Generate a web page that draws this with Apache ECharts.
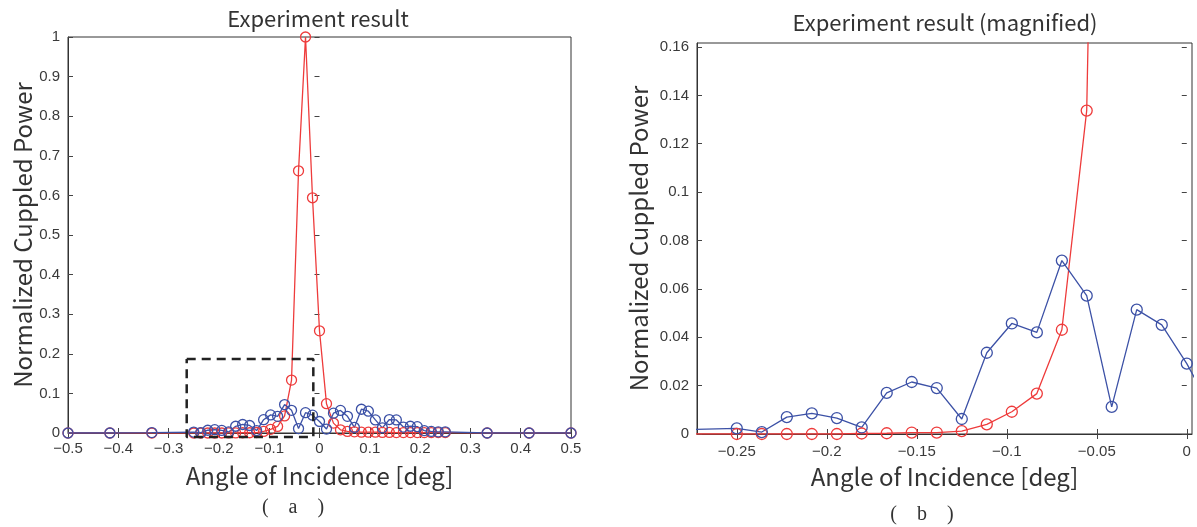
<!DOCTYPE html>
<html>
  <head>
    <meta charset="utf-8" />
    <title>Experiment result</title>
    <script src="https://cdn.jsdelivr.net/npm/echarts@6/dist/echarts.min.js"></script>
    <style>
      body { margin: 0; background: #fff; }
      #main { width: 1197px; height: 527px; }
    </style>
  </head>
  <body>
    <div id="main"></div>
    <script type="text/javascript">
      // angle of incidence [deg]
      var angles = [-0.5, -0.4167, -0.3333,
        -0.25, -0.2361, -0.2222, -0.2083, -0.1944, -0.1806, -0.1667, -0.1528, -0.1389,
        -0.125, -0.1111, -0.0972, -0.0833, -0.0694, -0.0556, -0.0417, -0.0278, -0.0139,
        0,
        0.0139, 0.0278, 0.0417, 0.0556, 0.0694, 0.0833, 0.0972, 0.1111, 0.125,
        0.1389, 0.1528, 0.1667, 0.1806, 0.1944, 0.2083, 0.2222, 0.2361, 0.25,
        0.3333, 0.4167, 0.5];
      // red curve
      var redPower = [0, 0, 0,
        0, 0, 0, 0, 0, 0.0002, 0.0003, 0.0006, 0.0006,
        0.0012, 0.004, 0.0092, 0.0167, 0.0431, 0.1337, 0.662, 1.0, 0.594,
        0.258,
        0.074, 0.025, 0.008, 0.004, 0.003, 0.002, 0.002, 0.002, 0.0015,
        0.0015, 0.001, 0.001, 0.001, 0.001, 0.001, 0.001, 0.001, 0.001,
        0, 0, 0];
      // blue curve
      var bluePower = [0, 0, 0.001,
        0.0023, 0.0008, 0.007, 0.0085, 0.0066, 0.0027, 0.017, 0.0215, 0.019,
        0.0062, 0.0336, 0.0457, 0.042, 0.0717, 0.0572, 0.0112, 0.0514, 0.0451,
        0.0291,
        0.010, 0.050, 0.057, 0.042, 0.014, 0.060, 0.055, 0.033, 0.013,
        0.034, 0.033, 0.015, 0.017, 0.016, 0.006, 0.004, 0.003, 0.003,
        0, 0, 0];
      // dashed box marking the magnified region
      var boxX = [-0.264, -0.0123, -0.0123, -0.264, -0.264];
      var boxY = [0.187, 0.187, -0.01, -0.01, 0.187];
      // tick labels of the magnified plot
      var magXTicks = [-0.25, -0.2, -0.15, -0.1, -0.05, 0];
      var magYTicks = [0, 0.02, 0.04, 0.06, 0.08, 0.1, 0.12, 0.14, 0.16];

      var RED = "#ee3b3b";
      var BLUE = "#3c51a6";
      var TXT = "#333";
      var NUMFONT = "Liberation Sans";
      var JPFONT = "Noto Sans CJK JP";

      function pairs(xs, ys) {
        var out = [];
        for (var i = 0; i < xs.length; i++) out.push([xs[i], ys[i]]);
        return out;
      }
      function fmt(v) {
        var s = String(+(+v).toFixed(3));
        return s.replace("-", "\u2212");
      }

      var chart = echarts.init(document.getElementById("main"));

      var tickStyle = { show: true, inside: true, length: 5, lineStyle: { color: "#444" } };
      var lineAx = { show: true, onZero: false, lineStyle: { color: "#333", width: 1 } };
      var lblStyle = { color: "#3a3a3a", fontFamily: NUMFONT, fontSize: 15 };
      var nameStyle = { color: TXT, fontFamily: JPFONT, fontSize: 24 };

      function curve(name, data, color, xi, yi, size) {
        return {
          name: name,
          type: "line",
          xAxisIndex: xi,
          yAxisIndex: yi,
          data: data,
          symbol: "circle",
          symbolSize: size,
          showSymbol: true,
          clip: true,
          lineStyle: { color: color, width: 1.3 },
          itemStyle: { color: "rgba(0,0,0,0)", borderColor: color, borderWidth: 1.3 },
          emphasis: { disabled: true },
        };
      }

      var option = {
        animation: false,
        backgroundColor: "#fff",
        grid: [
          { left: 68, top: 37, width: 503, height: 396, show: true, borderColor: "#333", borderWidth: 1 },
          { left: 697, top: 43, width: 495, height: 391, show: true, borderColor: "#333", borderWidth: 1 },
        ],
        xAxis: [
          {
            gridIndex: 0, type: "value", min: -0.5, max: 0.5, interval: 0.1,
            axisLine: lineAx, axisTick: tickStyle, splitLine: { show: false },
            axisLabel: Object.assign({ margin: 8, formatter: fmt }, lblStyle),
            name: "Angle of Incidence [deg]", nameLocation: "middle", nameGap: 31, nameTextStyle: nameStyle,
          },
          {
            gridIndex: 0, type: "value", position: "top", min: -0.5, max: 0.5, interval: 0.1,
            axisLine: { show: false }, axisTick: tickStyle, axisLabel: { show: false }, splitLine: { show: false },
          },
          {
            gridIndex: 1, type: "value", min: -0.2721, max: 0.0029,
            axisLine: lineAx,
            axisTick: Object.assign({ customValues: magXTicks }, tickStyle),
            axisLabel: Object.assign({ margin: 10, customValues: magXTicks, formatter: fmt }, lblStyle),
            splitLine: { show: false },
            name: "Angle of Incidence [deg]", nameLocation: "middle", nameGap: 31, nameTextStyle: nameStyle,
          },
          {
            gridIndex: 1, type: "value", position: "top", min: -0.2721, max: 0.0029,
            axisLine: { show: false },
            axisTick: Object.assign({ customValues: magXTicks }, tickStyle),
            axisLabel: { show: false }, splitLine: { show: false },
          },
        ],
        yAxis: [
          {
            gridIndex: 0, type: "value", min: 0, max: 1, interval: 0.1,
            axisLine: lineAx, axisTick: tickStyle, splitLine: { show: false },
            axisLabel: Object.assign({ margin: 8, formatter: fmt }, lblStyle),
            name: "Normalized Cuppled Power", nameLocation: "middle", nameGap: 28, nameTextStyle: nameStyle,
          },
          {
            gridIndex: 0, type: "value", position: "right", min: 0, max: 1, interval: 0.1,
            axisLine: { show: false }, axisTick: tickStyle, axisLabel: { show: false }, splitLine: { show: false },
          },
          {
            gridIndex: 1, type: "value", min: 0, max: 0.16165,
            axisLine: lineAx,
            axisTick: Object.assign({ customValues: magYTicks }, tickStyle),
            axisLabel: Object.assign({ margin: 8, customValues: magYTicks, formatter: fmt }, lblStyle),
            splitLine: { show: false },
            name: "Normalized Cuppled Power", nameLocation: "middle", nameGap: 46, nameTextStyle: nameStyle,
          },
          {
            gridIndex: 1, type: "value", position: "right", min: 0, max: 0.16165,
            axisLine: { show: false },
            axisTick: Object.assign({ customValues: magYTicks }, tickStyle),
            axisLabel: { show: false }, splitLine: { show: false },
          },
        ],
        series: [
          curve("red", pairs(angles, redPower), RED, 0, 0, 10),
          curve("blue", pairs(angles, bluePower), BLUE, 0, 0, 10),
          {
            name: "box",
            type: "line",
            xAxisIndex: 0,
            yAxisIndex: 0,
            data: pairs(boxX, boxY),
            symbol: "none",
            clip: false,
            z: 5,
            lineStyle: { color: "#222", width: 2.5, type: [9, 6] },
            emphasis: { disabled: true },
          },
          curve("red", pairs(angles, redPower), RED, 2, 2, 11),
          curve("blue", pairs(angles, bluePower), BLUE, 2, 2, 11),
        ],
        graphic: [
          { type: "text", x: 318, y: 19, style: { text: "Experiment result", fill: TXT, font: "22px '" + JPFONT + "'", textAlign: "center", textVerticalAlign: "middle" } },
          { type: "text", x: 945, y: 23, style: { text: "Experiment result (magnified)", fill: TXT, font: "22px '" + JPFONT + "'", textAlign: "center", textVerticalAlign: "middle" } },
          { type: "text", x: 293, y: 508, style: { text: "(    a    )", fill: TXT, font: "20px 'Liberation Serif'", textAlign: "center", textVerticalAlign: "middle" } },
          { type: "text", x: 922, y: 515, style: { text: "(    b    )", fill: TXT, font: "20px 'Liberation Serif'", textAlign: "center", textVerticalAlign: "middle" } },
        ],
      };

      option && chart.setOption(option);
    </script>
  </body>
</html>
